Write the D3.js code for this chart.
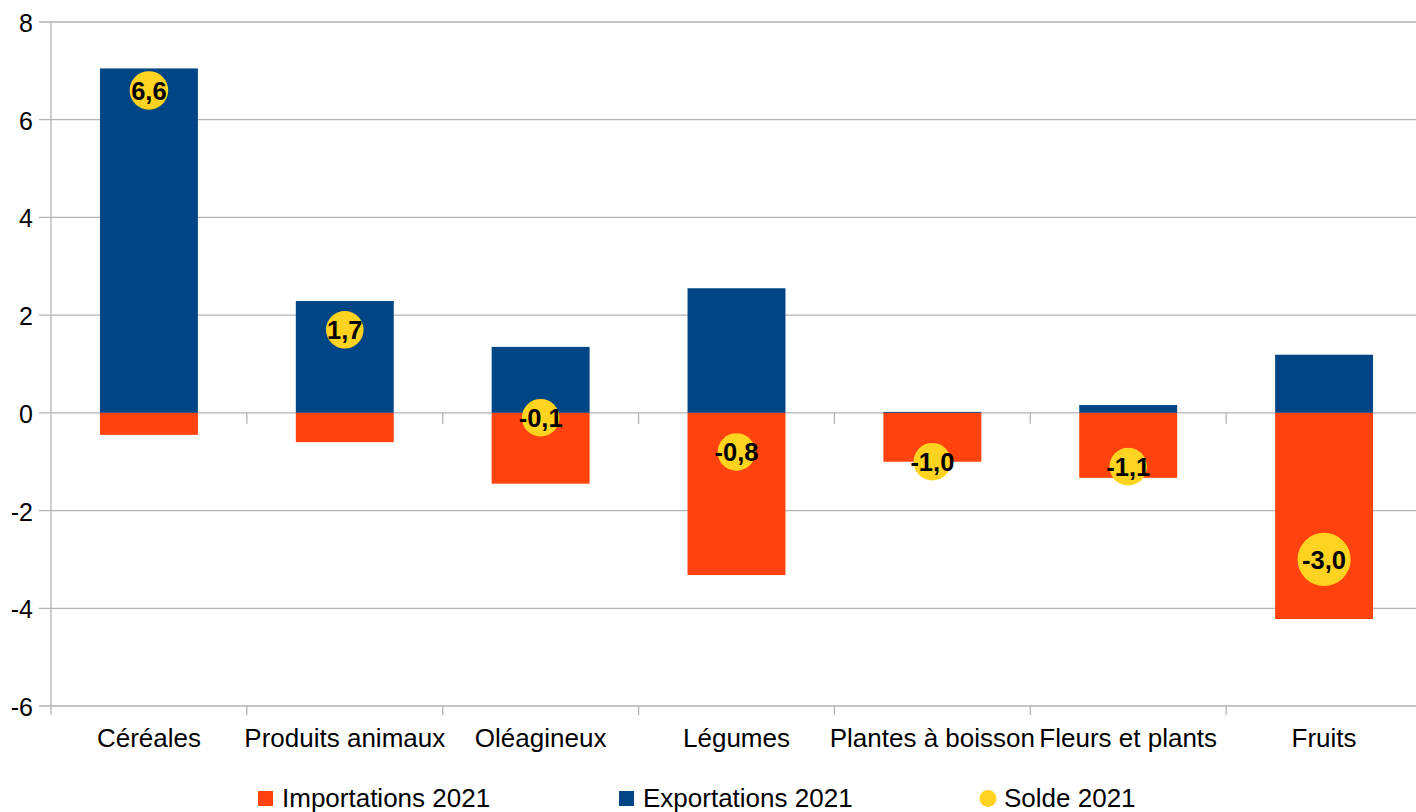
<!DOCTYPE html>
<html lang="fr">
<head>
<meta charset="utf-8">
<script src="https://cdn.jsdelivr.net/npm/d3@7"></script>
<style>
  html, body { margin: 0; padding: 0; background: #fff; }
  svg { display: block; font-family: "Liberation Sans", Arial, sans-serif; }
</style>
</head>
<body>
<svg id="chart" width="1416" height="812"></svg>
<script>
// Balance commerciale par filière, 2021 (milliards d'euros)
const categories = ["Céréales", "Produits animaux", "Oléagineux", "Légumes", "Plantes à boisson", "Fleurs et plants", "Fruits"];
const importations = [-0.45, -0.60, -1.45, -3.32, -1.00, -1.33, -4.22];
const exportations = [7.05, 2.29, 1.35, 2.55, 0.02, 0.16, 1.19];
const solde = [6.6, 1.7, -0.1, -0.8, -1.0, -1.1, -3.0];
const soldeBubble = [1.05, 1.0, 1.0, 1.0, 1.0, 1.0, 2.0];
const yTicks = [-6, -4, -2, 0, 2, 4, 6, 8];
const legendItems = ["Importations 2021", "Exportations 2021", "Solde 2021"];

const colors = { imp: "#ff420e", exp: "#004586", solde: "#ffd320", grid: "#b3b3b3" };

const svg = d3.select("#chart");
const plot = { left: 51, right: 1422, top: 22, bottom: 706 };

const x = d3.scaleBand().domain(categories).range([plot.left, plot.right]).paddingInner(0.5).paddingOuter(0.25);
const y = d3.scaleLinear().domain([-6, 8]).range([plot.bottom, plot.top]);
const r = d3.scaleSqrt().domain([0, 1]).range([0, 18.8]);
const step = x.step();

// Horizontal gridlines with small outer ticks
svg.append("g").selectAll("line").data(yTicks).join("line")
  .attr("x1", 39).attr("x2", 1416)
  .attr("y1", d => y(d)).attr("y2", d => y(d))
  .attr("stroke", colors.grid).attr("stroke-width", 1.3);

// Vertical axis line
svg.append("line")
  .attr("x1", plot.left).attr("x2", plot.left)
  .attr("y1", plot.top).attr("y2", plot.bottom + 9)
  .attr("stroke", colors.grid).attr("stroke-width", 1.3);

// Category separators on the zero line and along the bottom
const bounds = d3.range(1, categories.length).map(i => plot.left + i * step);
svg.append("g").selectAll("line").data(bounds).join("line")
  .attr("x1", d => d).attr("x2", d => d)
  .attr("y1", y(0)).attr("y2", y(0) + 11)
  .attr("stroke", colors.grid).attr("stroke-width", 1.3);
svg.append("g").selectAll("line").data(bounds).join("line")
  .attr("x1", d => d).attr("x2", d => d)
  .attr("y1", plot.bottom).attr("y2", plot.bottom + 9)
  .attr("stroke", colors.grid).attr("stroke-width", 1.3);

// Y tick labels
svg.append("g").selectAll("text").data(yTicks).join("text")
  .attr("x", 33).attr("y", d => y(d) + 10)
  .attr("text-anchor", "end")
  .attr("font-size", 25).attr("fill", "#000")
  .text(d => d);

// Category labels
svg.append("g").selectAll("text").data(categories).join("text")
  .attr("x", d => x(d) + x.bandwidth() / 2).attr("y", 747)
  .attr("text-anchor", "middle")
  .attr("font-size", 26).attr("fill", "#000")
  .text(d => d);

// Bars
const rows = categories.map((c, i) => ({ c, imp: importations[i], exp: exportations[i], solde: solde[i], size: soldeBubble[i] }));

svg.append("g").selectAll("rect").data(rows).join("rect")
  .attr("x", d => x(d.c)).attr("width", x.bandwidth())
  .attr("y", d => y(Math.max(0, d.exp))).attr("height", d => Math.abs(y(d.exp) - y(0)))
  .attr("fill", colors.exp);

svg.append("g").selectAll("rect").data(rows).join("rect")
  .attr("x", d => x(d.c)).attr("width", x.bandwidth())
  .attr("y", y(0)).attr("height", d => Math.abs(y(d.imp) - y(0)))
  .attr("fill", colors.imp);

// Balance bubbles
svg.append("g").selectAll("circle").data(rows).join("circle")
  .attr("cx", d => x(d.c) + x.bandwidth() / 2)
  .attr("cy", d => y(d.solde))
  .attr("r", d => r(d.size))
  .attr("fill", colors.solde);

const fmt = v => d3.format(".1f")(v).replace(".", ",").replace("−", "-");
svg.append("g").selectAll("text").data(rows).join("text")
  .attr("x", d => x(d.c) + x.bandwidth() / 2)
  .attr("y", d => y(d.solde) + 9.5)
  .attr("text-anchor", "middle")
  .attr("font-size", 25.5).attr("font-weight", "bold").attr("fill", "#000")
  .text(d => fmt(d.solde));

// Legend
const legend = svg.append("g");
const legendX = [258, 619, 980];
const legendColors = [colors.imp, colors.exp, colors.solde];
legendItems.forEach((t, i) => {
  if (i < 2) {
    legend.append("rect").attr("x", legendX[i]).attr("y", 791).attr("width", 15).attr("height", 15).attr("fill", legendColors[i]);
  } else {
    legend.append("circle").attr("cx", legendX[i] + 8).attr("cy", 798.5).attr("r", 8.5).attr("fill", legendColors[i]);
  }
  legend.append("text").attr("x", legendX[i] + 24).attr("y", 807)
    .attr("font-size", 26).attr("fill", "#000").text(t);
});
</script>
</body>
</html>
